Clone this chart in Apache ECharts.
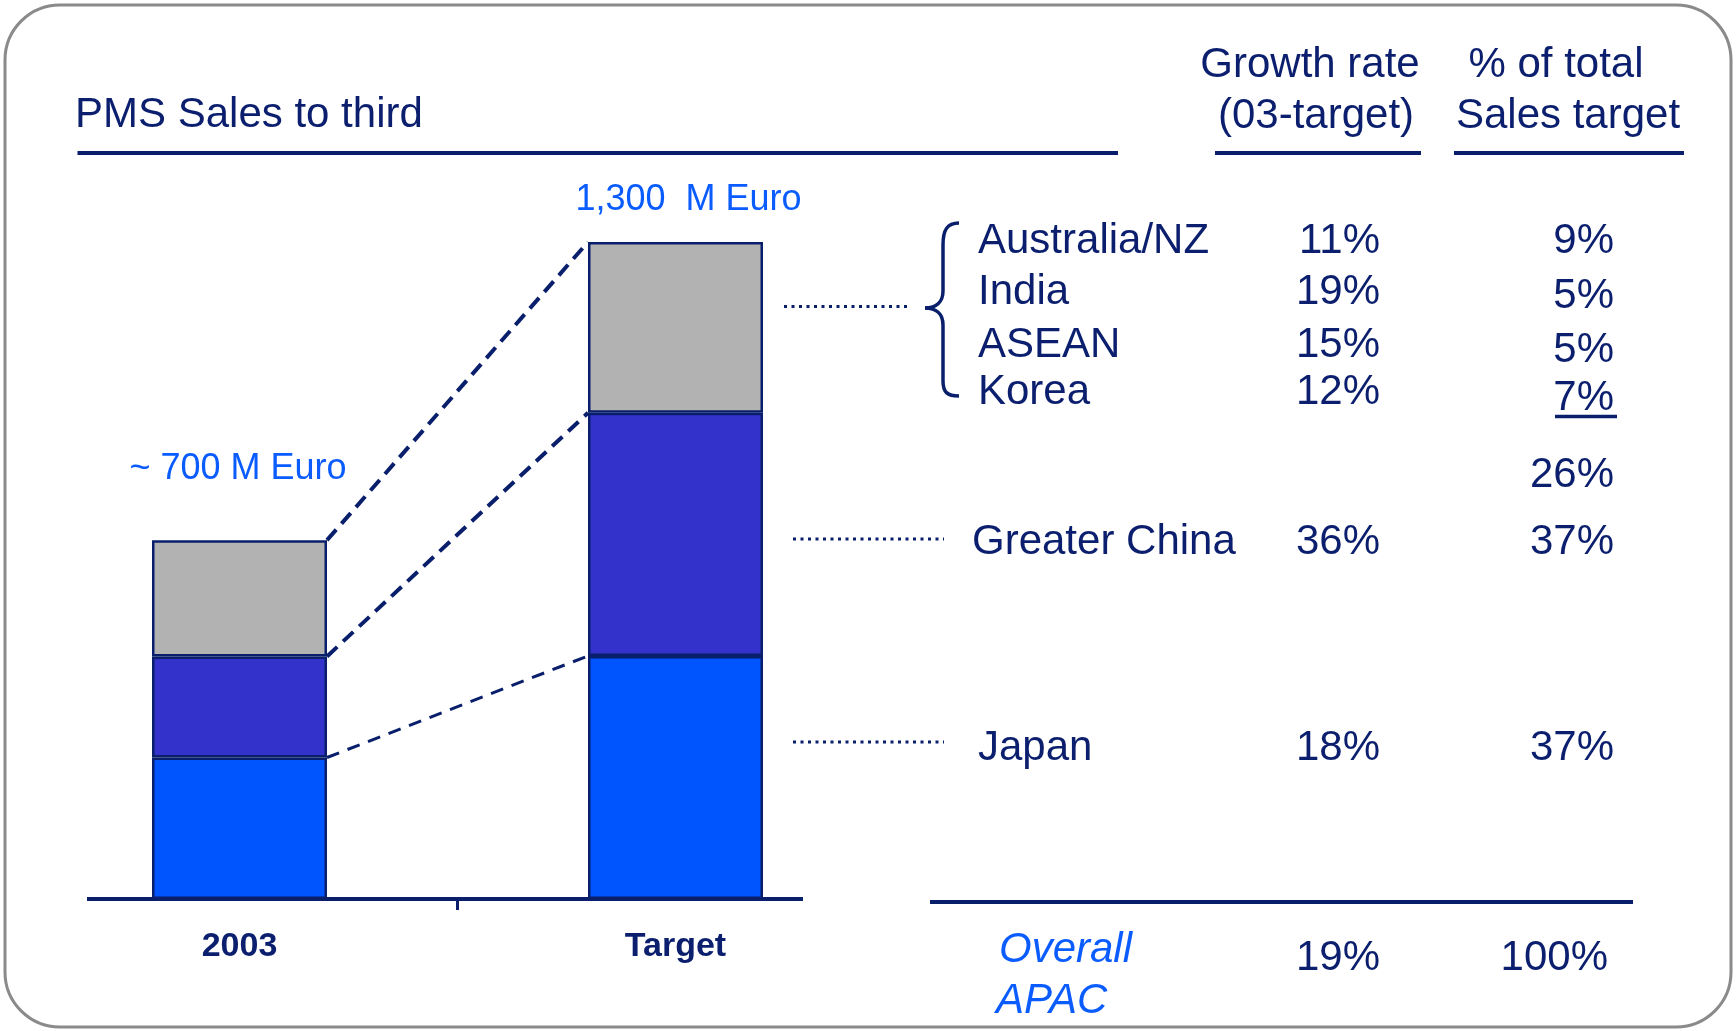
<!DOCTYPE html>
<html>
<head>
<meta charset="utf-8">
<script src="https://cdn.jsdelivr.net/npm/echarts@6/dist/echarts.min.js"></script>
<style>
html,body{margin:0;padding:0;background:#fff;}
#chart{width:1736px;height:1031px;}
</style>
</head>
<body>
<div id="chart"></div>
<script>
// ---- data ----
const categories = ['2003', 'Target'];
const japan = [280, 481];
const greaterChina = [200, 481];
const others = [230, 338];
const totalLabels = ['~ 700 M Euro', '1,300  M Euro'];

const titleText = 'PMS Sales to third';
const headerGrowth = ['Growth rate', '(03-target)'];
const headerShare = ['% of total', 'Sales target'];
const regions = ['Australia/NZ', 'India', 'ASEAN', 'Korea', 'Greater China', 'Japan'];
const growthRates = ['11%', '19%', '15%', '12%', '36%', '18%'];
const shares = ['9%', '5%', '5%', '7%', '37%', '37%'];
const othersSubtotal = '26%';
const overallLabel = ['Overall', 'APAC'];
const overallGrowth = '19%';
const overallShare = '100%';

// ---- style ----
const NAVY = '#0b1f6e';
const LINE_NAVY = '#0a1f6b';
const BRIGHT = '#0a5cff';
const FONT = '"Liberation Sans", Arial, sans-serif';
const BAR_W = 175;

const chart = echarts.init(document.getElementById('chart'), null, {renderer: 'canvas'});

function cum(i, k) {
  const layers = [japan, greaterChina, others];
  let s = 0;
  for (let j = 0; j <= k; j++) s += layers[j][i];
  return s;
}
const connectorData = [0, 1, 2].map(k => [0, cum(0, k), 1, cum(1, k)]);

function txt(text, x, baseline, opts) {
  opts = opts || {};
  const fs = opts.size || 42;
  return {
    type: 'text', x: x, y: baseline - 0.3465 * fs + 3, z: 10,
    style: {
      text: text,
      font: (opts.italic ? 'italic ' : '') + (opts.bold ? 'bold ' : '') + fs + 'px ' + FONT,
      fill: opts.color || NAVY,
      align: opts.align || 'left', textAlign: opts.align || 'left',
      verticalAlign: 'middle', textVerticalAlign: 'middle'
    }
  };
}
function hline(x1, x2, y, w, dash) {
  return {
    type: 'line', z: 5,
    shape: {x1: x1, y1: y, x2: x2, y2: y},
    style: {stroke: LINE_NAVY, lineWidth: w, lineDash: dash || null}
  };
}
function vline(x, y1, y2, w) {
  return {type: 'line', z: 5, shape: {x1: x, y1: y1, x2: x, y2: y2}, style: {stroke: LINE_NAVY, lineWidth: w}};
}
function curve(x1, y1, c1x, c1y, c2x, c2y, x2, y2, w) {
  return {type: 'bezierCurve', z: 5,
    shape: {x1: x1, y1: y1, cpx1: c1x, cpy1: c1y, cpx2: c2x, cpy2: c2y, x2: x2, y2: y2},
    style: {stroke: LINE_NAVY, lineWidth: w, fill: null}};
}

const rowBase = [252.7, 304, 357, 404, 554, 760];
const shareBase = [252.7, 308, 362, 410, 554, 760];
const regionX = [978, 978, 978, 978, 972, 978];
const growthRight = 1380;
const shareRight = 1614;

const graphics = [
  {type: 'rect', z: 0, shape: {x: 5, y: 5, width: 1726, height: 1022, r: 55},
   style: {fill: '#fff', stroke: '#8a8a8a', lineWidth: 3}},
  txt(titleText, 75, 127),
  hline(77.5, 1118, 153, 4),
  txt(headerGrowth[0], 1310, 77, {align: 'center'}),
  txt(headerGrowth[1], 1316, 128, {align: 'center'}),
  txt(headerShare[0], 1556, 77, {align: 'center'}),
  txt(headerShare[1], 1568, 128, {align: 'center'}),
  hline(1215, 1421, 153, 4),
  hline(1454, 1684, 153, 4),
  // leaders
  hline(784, 910, 306.5, 3, [3, 4.5]),
  hline(793, 944, 539, 3, [3, 4.5]),
  hline(793, 944, 742, 3, [3, 4.5]),
  // brace
  curve(959, 223, 947, 223, 943, 230, 943, 245, 3.5),
  vline(943, 245, 291, 3.5),
  curve(943, 291, 943, 302, 936, 308, 925, 308, 3.5),
  curve(925, 308, 936, 308, 943, 314, 943, 325, 3.5),
  vline(943, 325, 381, 3.5),
  curve(943, 381, 943, 392, 947, 396, 959, 396, 3.5),
  // 7% underline
  hline(1555, 1617, 416.5, 3.5),
  txt(othersSubtotal, shareRight, 486.7, {align: 'right'}),
  // separator
  hline(930, 1633, 902, 4),
  txt(overallLabel[0], 999, 962, {italic: true, color: BRIGHT}),
  txt(overallLabel[1], 996, 1013, {italic: true, color: BRIGHT}),
  txt(overallGrowth, growthRight, 970, {align: 'right'}),
  txt(overallShare, 1608, 970, {align: 'right'})
];
regions.forEach((r, i) => {
  graphics.push(txt(r, regionX[i], rowBase[i]));
  graphics.push(txt(growthRates[i], growthRight, rowBase[i], {align: 'right'}));
  graphics.push(txt(shares[i], shareRight, shareBase[i], {align: 'right'}));
});

const labelCfg = [
  {distance: 53.5, offset: [-1.5, 0]},
  {distance: 23.5, offset: [13, 0]}
];

const barStyle = (c) => ({color: c, borderColor: LINE_NAVY, borderWidth: 2.5});

const option = {
  backgroundColor: '#ffffff',
  animation: false,
  grid: {left: 21.5, width: 872, top: 242, bottom: 132, containLabel: false},
  xAxis: {
    type: 'category', data: categories,
    axisLine: {show: false}, axisTick: {show: false},
    axisLabel: {fontFamily: FONT, fontWeight: 'bold', fontSize: 34, lineHeight: 34, color: NAVY, margin: 31}
  },
  yAxis: {type: 'value', min: 0, max: 1300, show: false, splitLine: {show: false}},
  graphic: graphics,
  series: [
    {name: 'Japan', type: 'bar', stack: 's', barWidth: BAR_W, data: japan, itemStyle: barStyle('#0055ff'), z: 3},
    {name: 'Greater China', type: 'bar', stack: 's', barWidth: BAR_W, data: greaterChina, itemStyle: barStyle('#3333cc'), z: 3},
    {name: 'Others', type: 'bar', stack: 's', barWidth: BAR_W, itemStyle: barStyle('#b2b2b2'), z: 3,
     data: others.map((v, i) => ({
       value: v,
       label: {show: true, position: 'top', distance: labelCfg[i].distance, offset: labelCfg[i].offset,
               formatter: totalLabels[i], fontFamily: FONT, fontSize: 36, lineHeight: 36, color: BRIGHT}
     }))},
    {name: 'connectors', type: 'custom', z: 4, clip: false,
     encode: {x: [0, 2], y: [1, 3]},
     data: connectorData,
     renderItem: function (params, api) {
       const p0 = api.coord([api.value(0), api.value(1)]);
       const p1 = api.coord([api.value(2), api.value(3)]);
       const k = params.dataIndex;
       return {
         type: 'line',
         shape: {x1: p0[0] + BAR_W / 2, y1: p0[1], x2: p1[0] - BAR_W / 2, y2: p1[1]},
         style: {stroke: LINE_NAVY, lineWidth: k === 0 ? 3 : 4, lineDash: k === 0 ? [13, 9] : [14, 8], fill: null}
       };
     }}
  ]
};
chart.setOption(option);

// axis baseline and middle tick, positioned from the chart's own scales
const base = chart.convertToPixel({gridIndex: 0}, [0, 0]);
const c1 = chart.convertToPixel({gridIndex: 0}, [1, 0]);
const midX = (base[0] + c1[0]) / 2;
chart.setOption({
  graphic: graphics.concat([
    {type: 'line', z: 6, shape: {x1: 87, y1: base[1], x2: 803, y2: base[1]}, style: {stroke: LINE_NAVY, lineWidth: 4}},
    {type: 'line', z: 6, shape: {x1: midX, y1: base[1], x2: midX, y2: base[1] + 11}, style: {stroke: LINE_NAVY, lineWidth: 3}}
  ])
}, {replaceMerge: ['graphic']});
</script>
</body>
</html>
